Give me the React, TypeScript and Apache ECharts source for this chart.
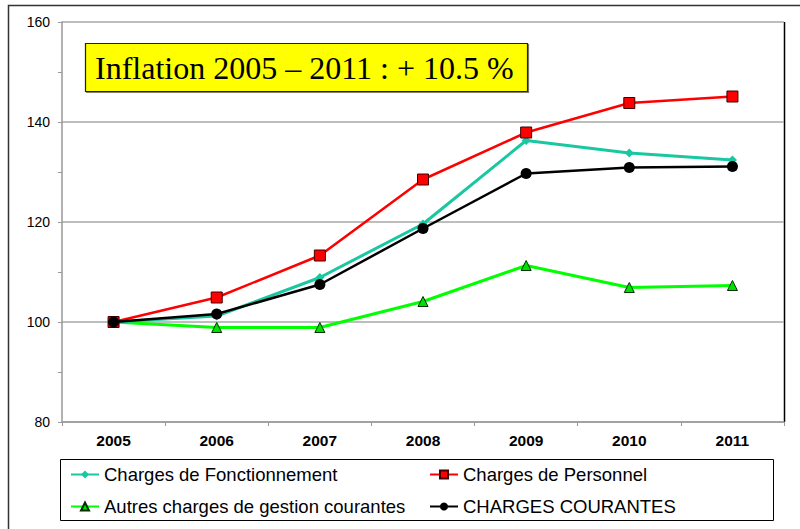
import React, { useEffect, useRef } from "react";
import * as echarts from "echarts";

const years = ["2005", "2006", "2007", "2008", "2009", "2010", "2011"];
const fonctionnement = [100, 101.2, 108.9, 119.6, 136.3, 133.8, 132.4];
const personnel = [100, 104.9, 113.3, 128.5, 137.9, 143.8, 145.1];
const autres = [100, 98.9, 98.9, 104.1, 111.3, 106.9, 107.3];
const courantes = [100, 101.6, 107.5, 118.7, 129.7, 130.9, 131.1];
const titleText = "Inflation 2005 \u2013 2011 : + 10.5 %";

export default function App() {
  const ref = useRef<HTMLDivElement>(null);
  useEffect(() => {
    document.body.style.margin = "0";
    const chart = echarts.init(ref.current!, null, { renderer: "svg" });
    const legendText = { fontFamily: "Liberation Sans, Arial", fontSize: 18.5, color: "#000" };
    const mkLegend = (name: string, left: number, top: number) => ({
      data: [name],
      left,
      top,
      itemWidth: 28,
      itemHeight: 10,
      itemGap: 0,
      padding: 0,
      textStyle: legendText,
      selectedMode: false,
    });
    chart.setOption({
      animation: false,
      backgroundColor: "#fff",
      grid: { left: 62, top: 22, right: 16, bottom: 107, containLabel: false },
      xAxis: {
        type: "category",
        data: years,
        boundaryGap: true,
        axisLine: { lineStyle: { color: "#999", width: 1.5 } },
        axisTick: { show: true, length: 4, lineStyle: { color: "#999" } },
        axisLabel: {
          fontFamily: "Liberation Sans, Arial",
          fontSize: 15.5,
          fontWeight: "bold",
          color: "#000",
          margin: 10,
        },
      },
      yAxis: {
        type: "value",
        min: 80,
        max: 160,
        interval: 20,
        axisLine: { show: true, lineStyle: { color: "#999", width: 1.5 } },
        axisTick: { show: true, length: 4, lineStyle: { color: "#999" } },
        minorTick: { show: true, splitNumber: 2, length: 4, lineStyle: { color: "#999" } },
        splitLine: { show: true, lineStyle: { color: "#a8a8a8", width: 1.5 } },
        axisLabel: {
          fontFamily: "Liberation Sans, Arial",
          fontSize: 14,
          color: "#000",
          margin: 12,
        },
      },
      legend: [
        mkLegend("Charges de Fonctionnement", 70, 465),
        mkLegend("Charges de Personnel", 429, 465),
        mkLegend("Autres charges de gestion courantes", 70, 497),
        mkLegend("CHARGES COURANTES", 429, 497),
      ],
      graphic: [
        {
          type: "rect",
          shape: { x: 8.5, y: 5.5, width: 900, height: 700 },
          style: { fill: "none", stroke: "#333", lineWidth: 1.5 },
          silent: true,
        },
        {
          type: "line",
          shape: { x1: 784.5, y1: 22, x2: 784.5, y2: 422 },
          style: { stroke: "#000", lineWidth: 1.5 },
          silent: true,
        },
        {
          type: "rect",
          shape: { x: 60.5, y: 459.5, width: 713, height: 61 },
          style: { fill: "none", stroke: "#000", lineWidth: 1 },
          silent: true,
          z: -1,
        },
        {
          type: "rect",
          shape: { x: 85.5, y: 43.5, width: 442, height: 48 },
          style: { fill: "#ffff00", stroke: "#222", lineWidth: 1.2, shadowColor: "rgba(0,0,0,0.5)", shadowOffsetX: 1, shadowOffsetY: 1 },
          silent: true,
          z: 10,
        },
        {
          type: "text",
          x: 95,
          y: 68,
          style: {
            text: titleText,
            font: "32px 'Liberation Serif', 'Times New Roman', serif",
            fill: "#000",
            verticalAlign: "middle",
          },
          silent: true,
          z: 11,
        },
      ],
      series: [
        {
          name: "Charges de Fonctionnement",
          type: "line",
          data: fonctionnement,
          symbol: "diamond",
          symbolSize: 9,
          lineStyle: { color: "#19c8a0", width: 3 },
          itemStyle: { color: "#19c8a0" },
          z: 3,
        },
        {
          name: "Charges de Personnel",
          type: "line",
          data: personnel,
          symbol: "rect",
          symbolSize: 11,
          lineStyle: { color: "#ff0000", width: 2.5 },
          itemStyle: { color: "#ff0000", borderColor: "#400000", borderWidth: 1 },
          z: 4,
        },
        {
          name: "Autres charges de gestion courantes",
          type: "line",
          data: autres,
          symbol: "triangle",
          symbolSize: 10,
          lineStyle: { color: "#00ff00", width: 3 },
          itemStyle: { color: "#00e000", borderColor: "#003000", borderWidth: 1 },
          z: 2,
        },
        {
          name: "CHARGES COURANTES",
          type: "line",
          data: courantes,
          symbol: "circle",
          symbolSize: 11,
          lineStyle: { color: "#000000", width: 2.5 },
          itemStyle: { color: "#000000" },
          z: 5,
        },
      ],
    });
    return () => chart.dispose();
  }, []);
  return <div ref={ref} style={{ width: 800, height: 529 }} />;
}
